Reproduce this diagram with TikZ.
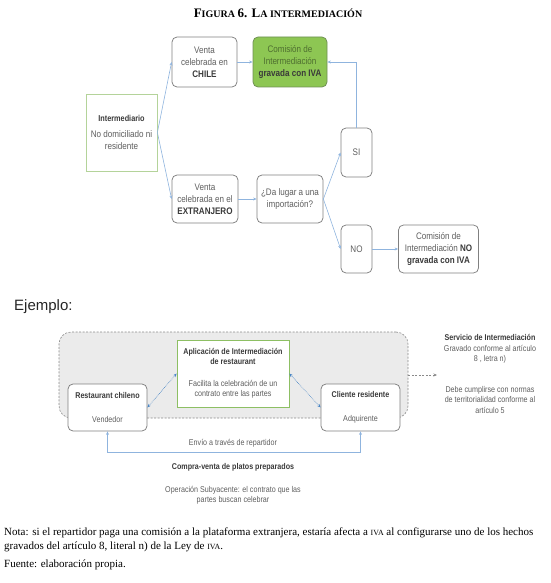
\documentclass[tikz,border=0pt]{standalone}
\usepackage{fontspec}
\setmainfont{Liberation Serif}
\newfontfamily\dfont[FakeStretch=0.85]{Liberation Sans}
\newfontfamily\efont{Liberation Sans}
\usetikzlibrary{arrows.meta}
\definecolor{boxgray}{HTML}{808080}
\definecolor{txtgray}{HTML}{5E5E5E}
\definecolor{txtdark}{HTML}{3A3A3A}
\definecolor{arrblue}{HTML}{8FB4DE}
\definecolor{dotblue}{HTML}{4A86C5}
\definecolor{gfill}{HTML}{8DC653}
\definecolor{gborder}{HTML}{6F8F55}
\definecolor{gtext}{HTML}{4E6E30}
\definecolor{lgreen}{HTML}{B4D39A}
\definecolor{agreen}{HTML}{8DBF63}
\definecolor{dashfill}{HTML}{EBEBEB}
\definecolor{dashgray}{HTML}{8A8A8A}
\newcommand\bd[1]{{\bfseries\color{txtdark}#1}}
\newcommand\scBig{\fontsize{13}{15}\selectfont}
\newcommand\scSmall{\fontsize{10}{15}\selectfont}
\newcommand\ivasc{{\fontsize{7.9}{9}\selectfont IVA}}
\tikzset{
  topfont/.style={font=\dfont\fontsize{9.5}{12.2}\selectfont},
  lowfont/.style={font=\dfont\fontsize{8.4}{10.5}\selectfont},
  tbox/.style={topfont, draw=boxgray, rounded corners=5pt, line width=0.75pt, fill=white,
    align=center, inner sep=0pt, text=txtgray},
  lbox/.style={lowfont, draw=boxgray, rounded corners=5pt, line width=0.75pt, fill=white,
    align=center, inner sep=0pt, text=txtgray},
  arr/.style={draw=arrblue, line width=0.6pt, -{Stealth[length=3.5pt,width=3pt]}},
  biarr/.style={draw=arrblue, line width=0.6pt, {Stealth[length=3.5pt,width=3pt]}-{Stealth[length=3.5pt,width=3pt]}},
  dotarr/.style={draw=dotblue, line width=0.6pt, densely dotted, {Stealth[length=3.5pt,width=3pt]}-{Stealth[length=3.5pt,width=3pt]}},
  dasharr/.style={draw=dashgray, line width=0.6pt, dashed, dash pattern=on 2pt off 1.5pt, -{Stealth[length=3.5pt,width=3pt]}},
  plain/.style={lowfont, text=txtgray, align=center, inner sep=0pt},
  notefont/.style={font=\fontsize{11}{13}\selectfont, inner sep=0pt, anchor=west, text=black},
}
\begin{document}
\begin{tikzpicture}[x=1pt,y=-1pt]
\useasboundingbox (0,0) rectangle (550,583);

% Title
\node[inner sep=0pt, font=\bfseries] (title) at (278,13)
  {\scBig F\scSmall IGURA \scBig 6. L\scSmall A INTERMEDIACIÓN};

% Top diagram
\node[tbox, draw=lgreen, rounded corners=0pt, minimum width=71, minimum height=77] (inter) at (121.5,132.5)
  {{\fontsize{8.6}{12}\selectfont\bd{Intermediario}}\\[4pt]No domiciliado ni\\residente};
\node[tbox, minimum width=65, minimum height=50] (chile) at (204.5,62)
  {Venta\\celebrada en\\\bd{CHILE}};
\node[tbox, fill=gfill, draw=gborder, text=gtext, minimum width=74, minimum height=50] (green) at (290,62)
  {Comisión de\\Intermediación\\\bd{gravada con IVA}};
\node[tbox, minimum width=66, minimum height=48] (extr) at (205,199)
  {Venta\\celebrada en el\\\bd{EXTRANJERO}};
\node[tbox, minimum width=66, minimum height=48] (imp) at (290,199)
  {¿Da lugar a una\\importación?};
\node[tbox, minimum width=31, minimum height=49] (si) at (356.5,152.5) {SI};
\node[tbox, minimum width=31, minimum height=48] (no) at (356.5,249) {NO};
\node[tbox, minimum width=80, minimum height=48] (comno) at (438.5,249)
  {Comisión de\\Intermediación \bd{NO}\\\bd{gravada con IVA}};

\draw[arr] (inter.east) -- (chile.west);
\draw[arr] (inter.east) -- (extr.west);
\draw[arr] (chile.east) -- (green.west);
\draw[arr] (extr.east) -- (imp.west);
\draw[arr] (imp.east) -- (si.west);
\draw[arr] (imp.east) -- (no.west);
\draw[arr] (no.east) -- (comno.west);
\draw[arr] (si.north) |- (green.east);

% Ejemplo
\node[inner sep=0pt, anchor=west, font=\efont\fontsize{15}{17}\selectfont, text=black!85] (ej) at (14,307) {Ejemplo:};

% Lower diagram
\node[draw=dashgray, dashed, dash pattern=on 2pt off 1.5pt, fill=dashfill, rounded corners=12pt,
  line width=0.6pt, minimum width=349, minimum height=86, inner sep=0pt] (frame) at (233.5,375) {};
\node[lbox, minimum width=79, minimum height=47] (rest) at (107.5,407.5)
  {\bd{Restaurant chileno}\\[13pt]Vendedor};
\node[lbox, minimum width=79, minimum height=47] (cli) at (360.5,407.5)
  {\bd{Cliente residente}\\[13pt]Adquirente};
\node[lbox, draw=agreen, rounded corners=0pt, minimum width=112, minimum height=67] (app) at (233,373.5)
  {\bd{Aplicación de Intermediación}\\\bd{de restaurant}\\[11pt]Facilita la celebración de un\\contrato entre las partes};

\draw[dotarr] (rest.east) -- (app.west);
\draw[dotarr] (app.east) -- (cli.west);

\coordinate (bl) at (108,452);
\draw[biarr] (rest.south) -- (rest.south |- bl) -| (cli.south);

\node[plain] (envio) at (233,443) {Envío a través de repartidor};
\node[plain] (compra) at (233,467) {\bd{Compra-venta de platos preparados}};
\node[plain] (oper) at (233,495.5) {Operación Subyacente: el contrato que las\\partes buscan celebrar};

\node[plain] (serv) at (490,374)
  {\bd{Servicio de Intermediación}\\Gravado conforme al artículo\\8 , letra n)\\[20pt]Debe cumplirse con normas\\de territorialidad conforme al\\artículo 5};
\coordinate (servin) at (437,375);
\draw[dasharr] (frame.east) -- (servin);

% Notes
\node[notefont] (nota1) at (4,533) {Nota: si el repartidor paga una comisión a la plataforma extranjera, estaría afecta a \ivasc{} al configurarse uno de los hechos};
\node[notefont] (nota2) at (4,547) {gravados del artículo 8, literal n) de la Ley de \ivasc.};
\node[notefont] (fuente) at (4,565) {Fuente: elaboración propia.};
\end{tikzpicture}
\end{document}
